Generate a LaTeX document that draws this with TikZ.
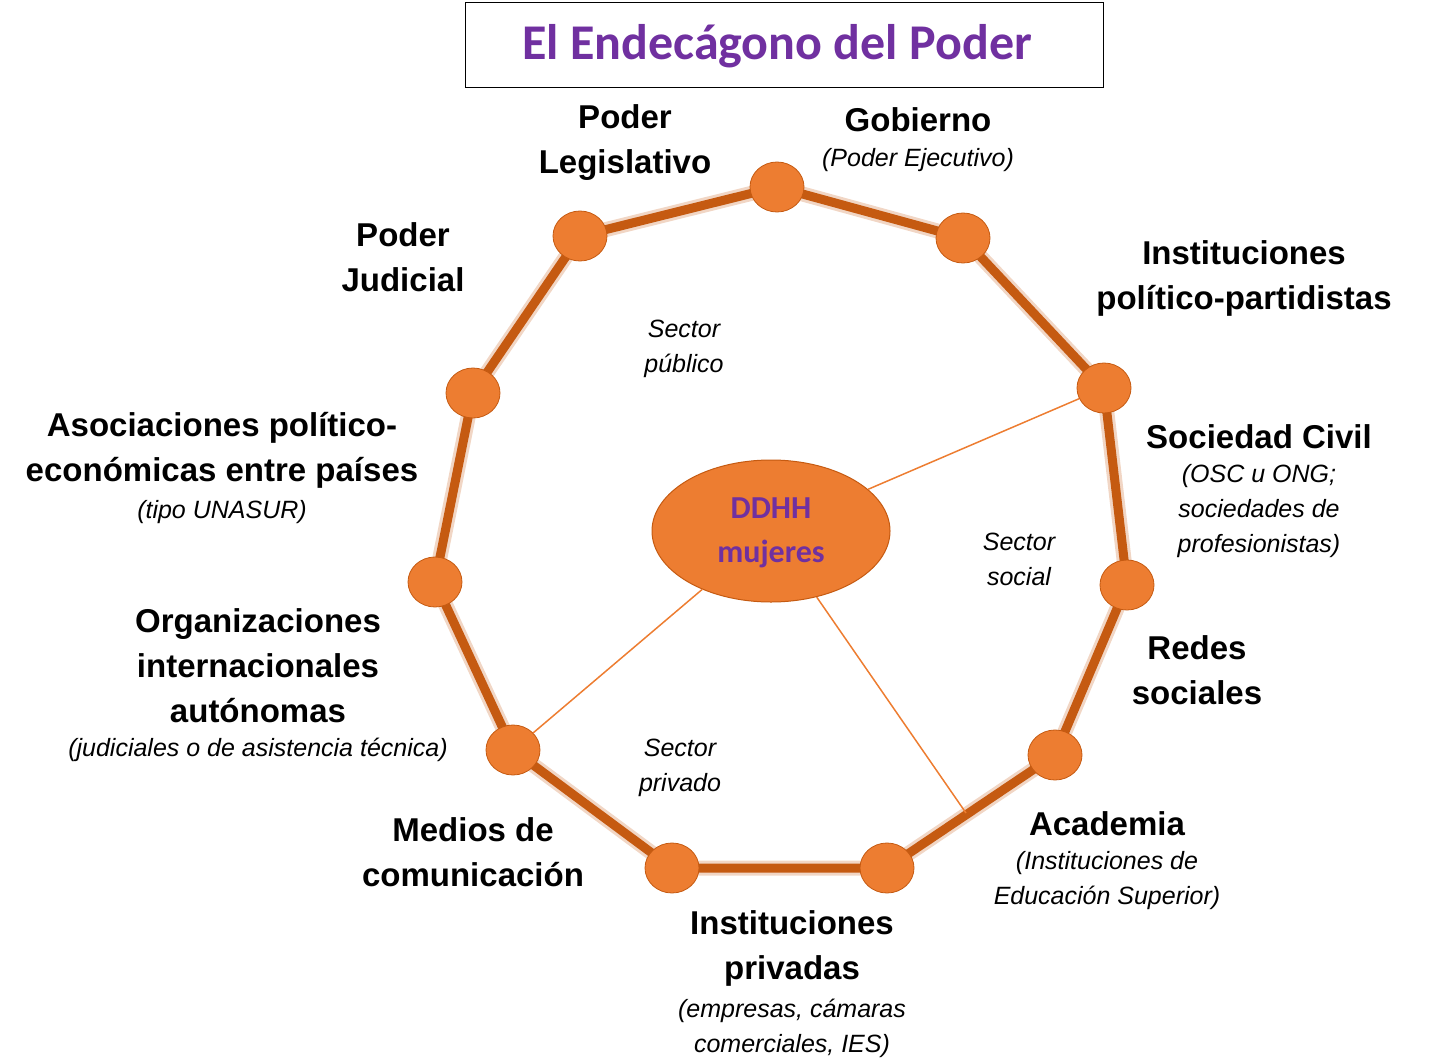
\documentclass[tikz,border=0pt]{standalone}
\usetikzlibrary{shapes.geometric}
\usepackage{fontspec}
\setmainfont{Liberation Sans}
\newfontfamily\calib{Carlito}
\definecolor{org}{HTML}{ED7D31}
\definecolor{dorg}{HTML}{C55A11}
\definecolor{purp}{HTML}{7030A0}
\begin{document}
\begin{tikzpicture}[x=1pt,y=-1pt,
  vtx/.style={ellipse,draw=dorg,line width=0.8pt,fill=org,minimum width=54pt,minimum height=50pt,inner sep=0pt},
  big/.style={align=center,font=\fontsize{33}{45}\selectfont\bfseries},
  sm/.style={align=center,font=\fontsize{25}{35}\selectfont\itshape},
  edge/.style={line width=9pt,dorg},
  glow/.style={line width=15pt,dorg!35,opacity=0.7},
  thin/.style={line width=1.5pt,org}]
\useasboundingbox (0,0) rectangle (1429,1062);
\node[draw,line width=1pt,minimum width=638pt,minimum height=85pt] (title) at (784,45.5) {};
\node[font=\calib\fontsize{50}{55}\selectfont\bfseries,text=purp] (tt) at (777,46) {El Endecágono del Poder};
\coordinate (pA) at (777,187); \coordinate (pB) at (963,238); \coordinate (pC) at (1104,388);
\coordinate (pD) at (1127,585); \coordinate (pE) at (1055,755); \coordinate (pF) at (887,868);
\coordinate (pG) at (672,868); \coordinate (pH) at (513,750); \coordinate (pI) at (435,582);
\coordinate (pJ) at (473,393); \coordinate (pK) at (580,236);
\draw[glow] (pA)--(pB)--(pC)--(pD)--(pE)--(pF)--(pG)--(pH)--(pI)--(pJ)--(pK)--cycle;
\draw[edge,line join=round] (pA)--(pB)--(pC)--(pD)--(pE)--(pF)--(pG)--(pH)--(pI)--(pJ)--(pK)--cycle;
\coordinate (mEF) at (966,813);
\node[ellipse,draw=dorg,line width=1pt,fill=org,minimum width=238pt,minimum height=142pt,inner sep=0pt] (ctr) at (771,531) {};
\node[font=\calib\fontsize{32}{44}\selectfont\bfseries,text=purp,align=center] (ctrt) at (771,533) {DDHH\\mujeres};
\foreach \n in {A,B,C,D,E,F,G,H,I,J,K} \node[vtx] (\n) at (p\n) {};
\draw[thin] (ctr) -- (C);
\draw[thin] (ctr) -- (H);
\draw[thin] (ctr) -- (mEF);
\node[big] (l1) at (625,143) {Poder\\Legislativo};
\node[big] (l2) at (918,120) {Gobierno};
\node[sm] (l2s) at (918,160) {(Poder Ejecutivo)};
\node[big] (l3) at (1244,278) {Instituciones\\político-partidistas};
\node[big] (l4) at (1259,437) {Sociedad Civil};
\node[sm] (l4s) at (1259,511) {(OSC u ONG;\\sociedades de\\profesionistas)};
\node[big] (l5) at (1197,670) {Redes\\sociales};
\node[big] (l6) at (1107,824) {Academia};
\node[sm] (l6s) at (1107,881) {(Instituciones de\\Educación Superior)};
\node[big] (l7) at (792,948) {Instituciones\\privadas};
\node[sm] (l7s) at (792,1028) {(empresas, cámaras\\comerciales, IES)};
\node[big] (l8) at (473,852) {Medios de\\comunicación};
\node[big] (l9) at (258,666) {Organizaciones\\internacionales\\autónomas};
\node[sm] (l9s) at (258,750) {(judiciales o de asistencia técnica)};
\node[big] (l10) at (222,450) {Asociaciones político-\\económicas entre países};
\node[sm] (l10s) at (222,512) {(tipo UNASUR)};
\node[big] (l11) at (403,257) {Poder\\Judicial};
\node[sm] (s1) at (684,349) {Sector\\público};
\node[sm] (s2) at (1019,559) {Sector\\social};
\node[sm] (s3) at (680,768) {Sector\\privado};
\end{tikzpicture}
\end{document}
